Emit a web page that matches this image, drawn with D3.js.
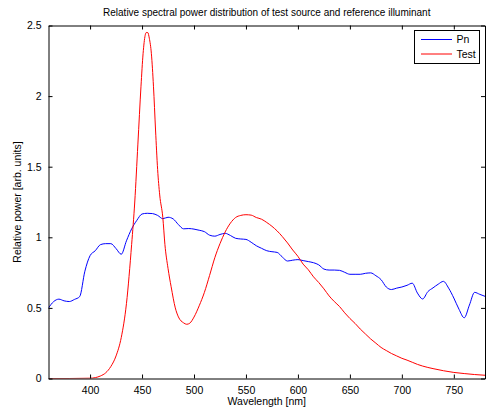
<!DOCTYPE html>
<html><head><meta charset="utf-8">
<script src="https://cdn.jsdelivr.net/npm/d3@7/dist/d3.min.js"></script>
<style>body{margin:0;background:#fff}svg{display:block;font-family:"Liberation Sans",Arial,sans-serif}</style>
</head><body>
<script>
const titleText = "Relative spectral power distribution of test source and reference illuminant";
const xLabel = "Wavelength [nm]";
const yLabel = "Relative power [arb. units]";
const seriesNames = ["Pn", "Test"];
const xTicks = [400, 450, 500, 550, 600, 650, 700, 750];
const yTicks = [0, 0.5, 1, 1.5, 2, 2.5];

const pnWavelength = [360,365,370,375,380,385,390,395,400,405,410,415,420,425,430,435,440,445,450,455,460,465,470,475,480,485,490,495,500,505,510,515,520,525,530,535,540,545,550,555,560,565,570,575,580,585,590,595,600,605,610,615,620,625,630,635,640,645,650,655,660,665,670,675,680,685,690,695,700,705,710,715,720,725,730,735,740,745,750,755,760,765,770,775,780];
const pnValue = [0.50,0.545,0.562,0.55,0.545,0.56,0.58,0.76,0.87,0.905,0.948,0.955,0.955,0.92,0.88,0.975,1.06,1.12,1.165,1.17,1.168,1.155,1.132,1.142,1.13,1.09,1.06,1.062,1.058,1.05,1.04,1.015,1.008,1.02,1.028,1.013,0.993,0.988,0.985,0.965,0.94,0.922,0.905,0.898,0.893,0.86,0.832,0.838,0.842,0.835,0.828,0.82,0.805,0.775,0.768,0.768,0.766,0.752,0.738,0.738,0.738,0.745,0.748,0.728,0.70,0.648,0.63,0.64,0.648,0.66,0.675,0.605,0.563,0.615,0.642,0.668,0.688,0.64,0.57,0.49,0.43,0.52,0.61,0.596,0.582];

const testWavelength = [360,380,400,405,410,415,420,425,430,435,440,443,446,449,451,453,454,455.5,457,459,461,463,465,467,470,472,475,478,482,485,490,493,496,500,505,510,515,520,525,530,535,540,545,550,555,560,565,570,575,580,585,590,595,600,605,610,615,620,625,630,635,640,645,650,655,660,665,670,675,680,685,690,695,700,705,710,715,720,730,740,750,760,770,780];
const testValue = [0,0,0.002,0.006,0.018,0.04,0.085,0.16,0.29,0.53,0.95,1.25,1.66,2.07,2.30,2.43,2.45,2.45,2.41,2.30,2.07,1.76,1.48,1.30,1.14,0.95,0.78,0.65,0.50,0.436,0.394,0.384,0.392,0.435,0.515,0.61,0.73,0.855,0.955,1.038,1.10,1.14,1.155,1.16,1.157,1.14,1.128,1.105,1.078,1.045,1.005,0.96,0.91,0.865,0.81,0.77,0.72,0.68,0.635,0.585,0.545,0.51,0.465,0.425,0.39,0.35,0.315,0.28,0.25,0.22,0.198,0.177,0.16,0.143,0.13,0.115,0.10,0.088,0.07,0.055,0.043,0.035,0.028,0.023];

const W = 488, H = 408;
const m = {left: 48.5, top: 25.5, right: 3, bottom: 30};
const pw = 436.5, ph = 353;

const svg = d3.select("body").append("svg").attr("width", W).attr("height", H);
const x = d3.scaleLinear().domain([360, 780]).range([m.left, m.left + pw]);
const y = d3.scaleLinear().domain([0, 2.5]).range([m.top + ph, m.top]);

const plot = svg.append("g");
plot.append("defs").append("clipPath").attr("id", "clip")
  .append("rect").attr("x", m.left).attr("y", m.top).attr("width", pw).attr("height", ph);

const line = d3.line().x(d => x(d[0])).y(d => y(d[1])).curve(d3.curveMonotoneX);
const pnData = pnWavelength.map((w, i) => [w, pnValue[i]]);
const testData = testWavelength.map((w, i) => [w, testValue[i]]);

plot.append("path").datum(pnData).attr("d", line).attr("fill", "none")
  .attr("stroke", "#0000ff").attr("stroke-width", 1).attr("clip-path", "url(#clip)");
plot.append("path").datum(testData).attr("d", line).attr("fill", "none")
  .attr("stroke", "#ff0000").attr("stroke-width", 1).attr("clip-path", "url(#clip)");

// axes
const fs = 10.5;
const bottomAxis = svg.append("g").attr("transform", `translate(0,${m.top + ph})`)
  .call(d3.axisBottom(x).tickValues(xTicks).tickSizeInner(-4).tickSizeOuter(0).tickPadding(8));
const topAxis = svg.append("g").attr("transform", `translate(0,${m.top})`)
  .call(d3.axisTop(x).tickValues(xTicks).tickSizeInner(-4).tickSizeOuter(0).tickFormat(""));
const leftAxis = svg.append("g").attr("transform", `translate(${m.left},0)`)
  .call(d3.axisLeft(y).tickValues(yTicks).tickSizeInner(-4).tickSizeOuter(0).tickPadding(7).tickFormat(d3.format("~g")));
const rightAxis = svg.append("g").attr("transform", `translate(${m.left + pw},0)`)
  .call(d3.axisRight(y).tickValues(yTicks).tickSizeInner(-4).tickSizeOuter(0).tickFormat(""));
[bottomAxis, topAxis, leftAxis, rightAxis].forEach(a => {
  a.selectAll("path").attr("stroke", "#000").attr("stroke-width", 1);
  a.selectAll("line").attr("stroke", "#000");
  a.selectAll("text").attr("fill", "#000").style("font-size", fs + "px").style("font-family", '"Liberation Sans", Arial, sans-serif');
});

// title and labels
svg.append("text").attr("x", m.left + pw / 2).attr("y", 16).attr("text-anchor", "middle")
  .style("font-size", "10px").attr("fill", "#000").text(titleText);
svg.append("text").attr("x", m.left + pw / 2).attr("y", 405).attr("text-anchor", "middle")
  .style("font-size", fs + "px").attr("fill", "#000").text(xLabel);
svg.append("text").attr("transform", `translate(21,${m.top + ph / 2}) rotate(-90)`).attr("text-anchor", "middle")
  .style("font-size", fs + "px").attr("fill", "#000").text(yLabel);

// legend
const lg = svg.append("g");
lg.append("rect").attr("x", 414.5).attr("y", 30.5).attr("width", 65).attr("height", 33)
  .attr("fill", "#fff").attr("stroke", "#000").attr("stroke-width", 1);
const colors = ["#0000ff", "#ff0000"];
seriesNames.forEach((n, i) => {
  const yy = 39.5 + i * 14.5;
  lg.append("line").attr("x1", 421).attr("x2", 452).attr("y1", yy).attr("y2", yy)
    .attr("stroke", colors[i]).attr("stroke-width", 1);
  lg.append("text").attr("x", 456.5).attr("y", yy + 3.8).style("font-size", fs + "px")
    .attr("fill", "#000").text(n);
});
</script>
</body></html>
